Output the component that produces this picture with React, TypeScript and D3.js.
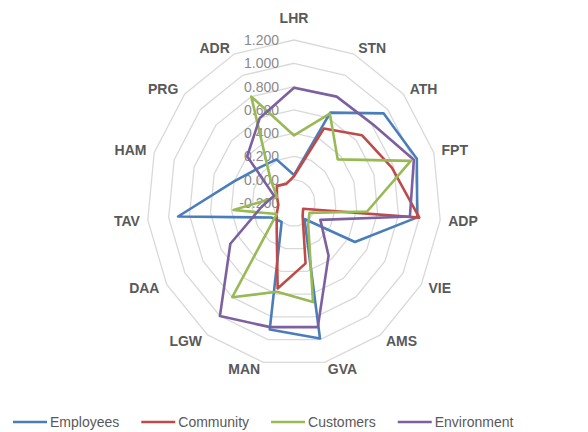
import React, { useEffect, useRef } from "react";
import * as d3 from "d3";

const categories = ["LHR", "STN", "ATH", "FPT", "ADP", "VIE", "AMS", "GVA", "MAN", "LGW", "DAA", "TAV", "HAM", "PRG", "ADR"];
const employees = [0.04, 0.65, 0.95, 1.03, 0.98, 0.47, -0.03, 0.99, 0.91, 0.0, 0.05, 0.91, 0.40, 0.25, 0.21];
const community = [0.03, 0.50, 0.67, 0.78, 1.00, -0.10, -0.06, 0.33, 0.55, 0.08, -0.01, -0.05, -0.03, 0.02, -0.02];
const customers = [0.38, 0.64, 0.36, 0.97, 0.50, -0.03, 0.03, 0.67, 0.58, 0.80, -0.01, 0.38, -0.03, 0.10, 0.80];
const environment = [0.79, 0.80, 0.81, 1.00, 0.91, 0.09, 0.36, 0.89, 0.89, 1.00, 0.50, 0.11, 0.00, 0.40, 0.60];
const tickValues = [-0.2, 0.0, 0.2, 0.4, 0.6, 0.8, 1.0, 1.2];
const seriesNames = ["Employees", "Community", "Customers", "Environment"];
const seriesColors = ["#4a7ebb", "#be4b48", "#98b954", "#7d60a0"];

export default function App() {
  const ref = useRef<SVGSVGElement>(null);
  useEffect(() => {
    const svg = d3.select(ref.current);
    svg.selectAll("*").remove();
    const W = 588, H = 432;
    const cx = 294, cy = 203, rx = 147, ry = 163;
    const r = d3.scaleLinear().domain([-0.2, 1.2]).range([0, 1]);
    const ang = d3.scaleLinear().domain([0, categories.length]).range([0, 2 * Math.PI]);
    const pt = (i: number, v: number): [number, number] => {
      const a = ang(i), f = r(v);
      return [cx + f * rx * Math.sin(a), cy - f * ry * Math.cos(a)];
    };
    svg.append("rect").attr("width", W).attr("height", H).attr("fill", "#fff");

    const line = d3.line<[number, number]>().curve(d3.curveLinearClosed);
    // grid rings
    svg.append("g").selectAll("path").data(tickValues.slice(1)).join("path")
      .attr("d", (t) => line(categories.map((_, i) => pt(i, t))))
      .attr("fill", "none").attr("stroke", "#d9d9d9").attr("stroke-width", 1.3);

    // tick labels
    svg.append("g").selectAll("text").data(tickValues).join("text")
      .attr("x", cx - 15).attr("y", (t) => cy - r(t) * ry)
      .attr("text-anchor", "end").attr("dominant-baseline", "central")
      .attr("font-family", "Liberation Sans, Arial, sans-serif").attr("font-size", 14)
      .attr("fill", "#8a8a8a")
      .text((t) => d3.format(".3f")(t).replace("−", "-"));

    // series
    const all = [employees, community, customers, environment];
    svg.append("g").selectAll("path").data(all).join("path")
      .attr("d", (vals) => line(vals.map((v, i) => pt(i, v))))
      .attr("fill", "none").attr("stroke", (_, i) => seriesColors[i])
      .attr("stroke-width", 2.6).attr("stroke-linejoin", "round");

    // category labels
    const lab = svg.append("g");
    categories.forEach((c, i) => {
      const a = ang(i);
      const s = Math.sin(a), co = Math.cos(a);
      const [vx, vy] = pt(i, 1.2);
      let anchor = "middle", x = vx, y = vy;
      if (Math.abs(s) < 0.1) {
        y = vy - 22 * co;
      } else {
        anchor = s > 0 ? "start" : "end";
        x = vx + Math.sign(s) * (2 + 6 * Math.abs(s));
        y = vy - 7 * co;
      }
      lab.append("text").attr("x", x).attr("y", y)
        .attr("text-anchor", anchor).attr("dominant-baseline", "central")
        .attr("font-family", "Liberation Sans, Arial, sans-serif").attr("font-size", 14)
        .attr("font-weight", "bold").attr("fill", "#595959").text(c);
    });

    // legend
    const lg = svg.append("g");
    let x0 = 13;
    const ly = 422;
    seriesNames.forEach((n, i) => {
      lg.append("line").attr("x1", x0).attr("x2", x0 + 34).attr("y1", ly).attr("y2", ly)
        .attr("stroke", seriesColors[i]).attr("stroke-width", 2.6);
      const t = lg.append("text").attr("x", x0 + 37).attr("y", ly)
        .attr("dominant-baseline", "central")
        .attr("font-family", "Liberation Sans, Arial, sans-serif").attr("font-size", 14)
        .attr("fill", "#595959").text(n);
      const w = (t.node() as SVGTextElement).getComputedTextLength();
      x0 = x0 + 37 + w + 22;
    });
  }, []);
  return (
    <svg ref={ref} width={588} height={432} style={{ position: "absolute", left: 0, top: 0 }} />
  );
}
